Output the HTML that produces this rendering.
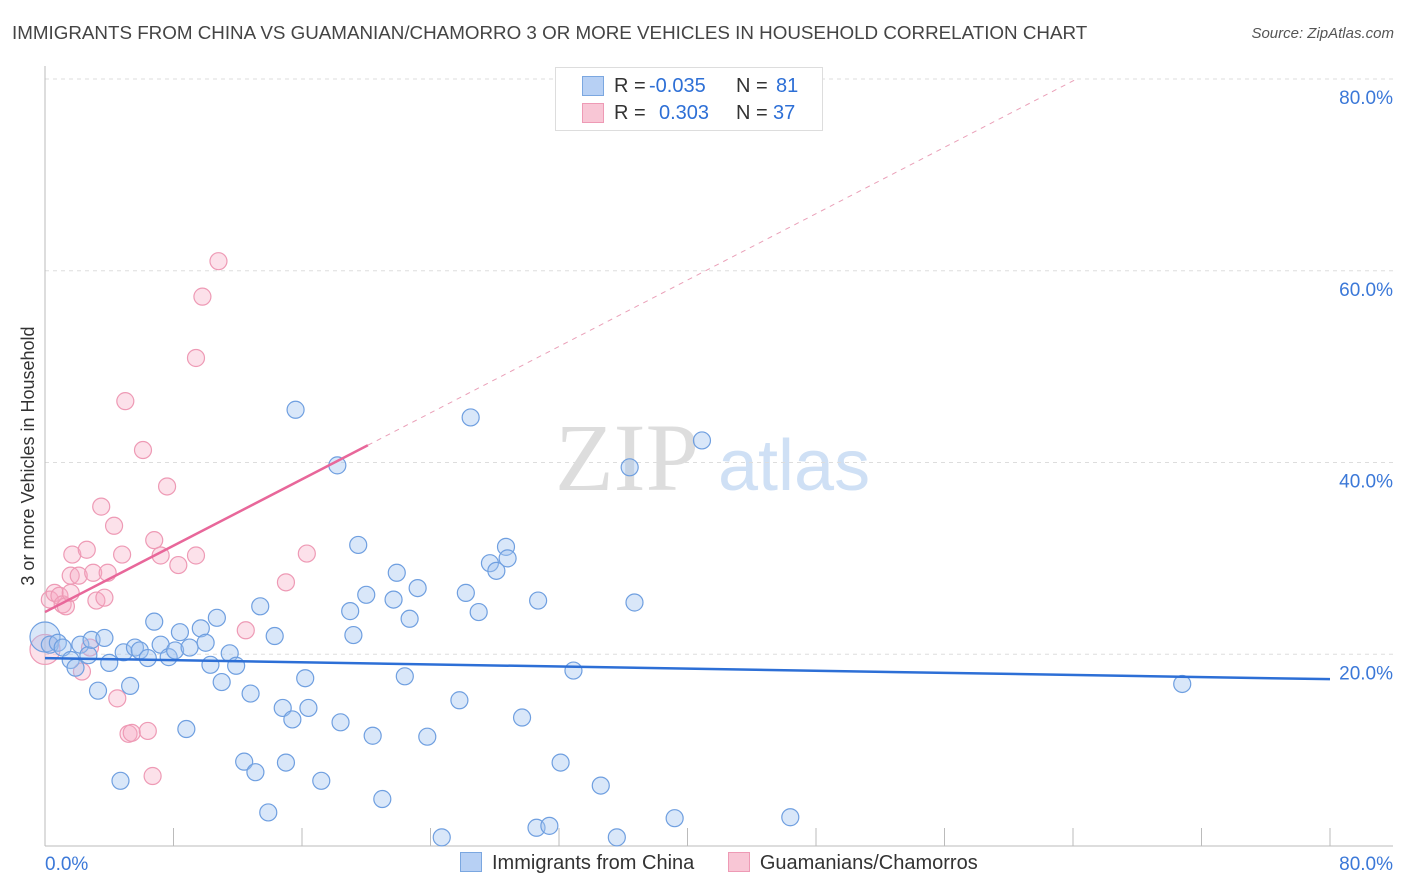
<!DOCTYPE html>
<html><head><meta charset="utf-8"><style>
body{margin:0;background:#fff;font-family:"Liberation Sans",sans-serif;}
#wrap{position:relative;width:1406px;height:892px;overflow:hidden;}
</style></head><body>
<div id="wrap">
<div style="position:absolute;left:12px;top:22px;font-size:18.8px;color:#444;">IMMIGRANTS FROM CHINA VS GUAMANIAN/CHAMORRO 3 OR MORE VEHICLES IN HOUSEHOLD CORRELATION CHART</div>
<div style="position:absolute;right:12px;top:25px;font-size:15px;color:#555;font-style:italic;">Source: ZipAtlas.com</div>
<svg id="chart" width="1406" height="892" style="position:absolute;left:0;top:0"></svg>
</div>
<script>
const xTicksPct=[0,80];
const yTicks=[20,40,60,80];
const chinaX=[0.3,0.8,1.1,1.6,1.9,2.2,2.7,2.9,3.3,3.7,4.0,4.7,4.9,5.3,5.6,5.9,6.4,6.8,7.2,7.7,8.1,8.4,8.8,9.0,9.7,10.0,10.3,10.7,11.0,11.5,11.9,12.4,12.8,13.1,13.4,13.9,14.3,14.8,15.0,15.4,15.6,16.2,16.4,17.2,18.2,18.4,19.0,19.2,19.5,20.0,20.4,21.0,21.7,21.9,22.4,22.7,23.2,23.8,24.7,25.8,26.2,26.5,27.0,27.7,28.1,28.7,28.8,29.7,30.6,30.7,31.4,32.1,32.9,34.6,35.6,36.4,36.7,39.2,40.9,46.4,70.8];
const chinaY=[21.0,21.2,20.7,19.4,18.6,21.0,19.9,21.5,16.2,21.7,19.1,6.8,20.2,16.7,20.7,20.4,19.6,23.4,21.0,19.7,20.4,22.3,12.2,20.7,22.7,21.2,18.9,23.8,17.1,20.1,18.8,8.8,15.9,7.7,25.0,3.5,21.9,14.4,8.7,13.2,45.5,17.5,14.4,6.8,39.7,12.9,24.5,22.0,31.4,26.2,11.5,4.9,25.7,28.5,17.7,23.7,26.9,11.4,0.9,15.2,26.4,44.7,24.4,29.5,28.7,31.2,30.0,13.4,1.9,25.6,2.1,8.7,18.3,6.3,0.9,39.5,25.4,2.9,42.3,3.0,16.9];
const guamX=[0.3,0.6,0.9,1.1,1.3,1.6,1.7,1.6,2.1,2.3,2.6,2.8,3.0,3.2,3.5,3.7,3.9,4.3,4.5,4.8,5.0,5.2,5.4,6.1,6.4,6.7,6.8,7.2,7.6,8.3,9.4,9.4,9.8,10.8,12.5,15.0,16.3];
const guamY=[25.7,26.4,26.1,25.2,25.0,26.4,30.4,28.2,28.2,18.2,30.9,20.7,28.5,25.6,35.4,25.9,28.5,33.4,15.4,30.4,46.4,11.7,11.8,41.3,12.0,7.3,31.9,30.3,37.5,29.3,30.3,50.9,57.3,61.0,22.5,27.5,30.5];
const chinaTrend=[19.6,17.4];
const guamTrend=[24.4,41.8,20.1];
const X0=45,X1=1330,Y0=846,Y80=79;
const sx=v=>X0+v*(X1-X0)/80;
const sy=v=>Y0-v*(Y0-Y80)/80;
const svg=document.getElementById('chart');
const NS='http://www.w3.org/2000/svg';
function mk(t,a){const e=document.createElementNS(NS,t);for(const k in a)e.setAttribute(k,a[k]);svg.appendChild(e);return e;}
let w=mk('text',{x:555,y:490,'font-size':96,fill:'#ddd','font-family':'Liberation Serif'});w.textContent='ZIP';


w=mk('text',{x:718,y:490,'font-size':72,fill:'#cfe0f5','font-family':'Liberation Sans'});w.textContent='atlas';


yTicks.forEach(t=>{
 const g=mk('line',{x1:X0,x2:1393,y1:sy(t),y2:sy(t),stroke:'#ddd','stroke-dasharray':'4,4'});
 
 
 const l=mk('text',{x:1393,y:sy(t)+25,'text-anchor':'end','font-size':19,fill:'#3b78d8'});l.textContent=t.toFixed(1)+'%';
 
 
});
let a=mk('line',{x1:X0,x2:X0,y1:66,y2:Y0,stroke:'#bbb'});


a=mk('line',{x1:X0,x2:1393,y1:Y0,y2:Y0,stroke:'#bbb'});


for(let i=1;i<=10;i++){const v=i*8;const t=mk('line',{x1:sx(v),x2:sx(v),y1:Y0,y2:Y0-18,stroke:'#bbb'});
 
 }
xTicksPct.forEach((v,i)=>{const l=mk('text',{x:i?1393:45,y:870,'text-anchor':i?'end':'start','font-size':19,fill:'#3b78d8'});l.textContent=v.toFixed(1)+'%';
 
 });
let yt=mk('text',{x:0,y:0,'font-size':18,fill:'#333',transform:'translate(34,456) rotate(-90)','text-anchor':'middle'});yt.textContent='3 or more Vehicles in Household';


function dot(x,y,r,f,s,n){const c=mk('circle',{cx:sx(x),cy:sy(y),r:r,fill:f,stroke:s,'stroke-width':1.2});
 
 }
dot(0,20.5,15,'rgba(245,170,195,0.35)','#ee9ab5','guam-point-large');
guamX.forEach((x,i)=>dot(x,guamY[i],8.5,'rgba(245,170,195,0.35)','#ee9ab5','guam-point'));
dot(0,21.8,15,'rgba(160,196,240,0.4)','#6f9fe0','china-point-large');
chinaX.forEach((x,i)=>dot(x,chinaY[i],8.5,'rgba(160,196,240,0.4)','#6f9fe0','china-point'));
let tl=mk('line',{x1:sx(0),y1:sy(chinaTrend[0]),x2:sx(80),y2:sy(chinaTrend[1]),stroke:'#2d6fd6','stroke-width':2.5});


const slope=(guamTrend[1]-guamTrend[0])/guamTrend[2];
const xe=(80-guamTrend[0])/slope;
tl=mk('line',{x1:sx(guamTrend[2]),y1:sy(guamTrend[1]),x2:sx(xe),y2:sy(80),stroke:'#eaa0b8','stroke-width':1,'stroke-dasharray':'5,5'});


tl=mk('line',{x1:sx(0),y1:sy(guamTrend[0]),x2:sx(guamTrend[2]),y2:sy(guamTrend[1]),stroke:'#e8679a','stroke-width':2.5});


</script>
<div style="position:absolute;left:555px;top:67px;width:266px;height:62px;border:1px solid #ddd;background:#fff;font-size:20px;color:#333;">
 <span style="position:absolute;left:26px;top:8px;width:20px;height:18px;background:#b7d0f4;border:1px solid #7ba7e0"></span>
 <span style="position:absolute;left:58px;top:7px">R =</span>
 <span style="position:absolute;left:93px;top:7px;color:#2d6fd6">-0.035</span>
 <span style="position:absolute;left:180px;top:7px">N =</span>
 <span style="position:absolute;left:220px;top:7px;color:#2d6fd6">81</span>
 <span style="position:absolute;left:26px;top:35px;width:20px;height:18px;background:#f8c6d5;border:1px solid #ee9ab5"></span>
 <span style="position:absolute;left:58px;top:34px">R =</span>
 <span style="position:absolute;left:103px;top:34px;color:#2d6fd6">0.303</span>
 <span style="position:absolute;left:180px;top:34px">N =</span>
 <span style="position:absolute;left:217px;top:34px;color:#2d6fd6">37</span>
</div>
<div style="position:absolute;left:460px;top:852px;font-size:20px;color:#333;white-space:nowrap;">
 <span><span style="display:inline-block;width:20px;height:18px;background:#b7d0f4;border:1px solid #7ba7e0;vertical-align:-3px;margin-right:10px"></span>Immigrants from China</span>
 <span style="margin-left:28px"><span style="display:inline-block;width:20px;height:18px;background:#f8c6d5;border:1px solid #ee9ab5;vertical-align:-3px;margin-right:10px"></span>Guamanians/Chamorros</span>
</div>
</body></html>
